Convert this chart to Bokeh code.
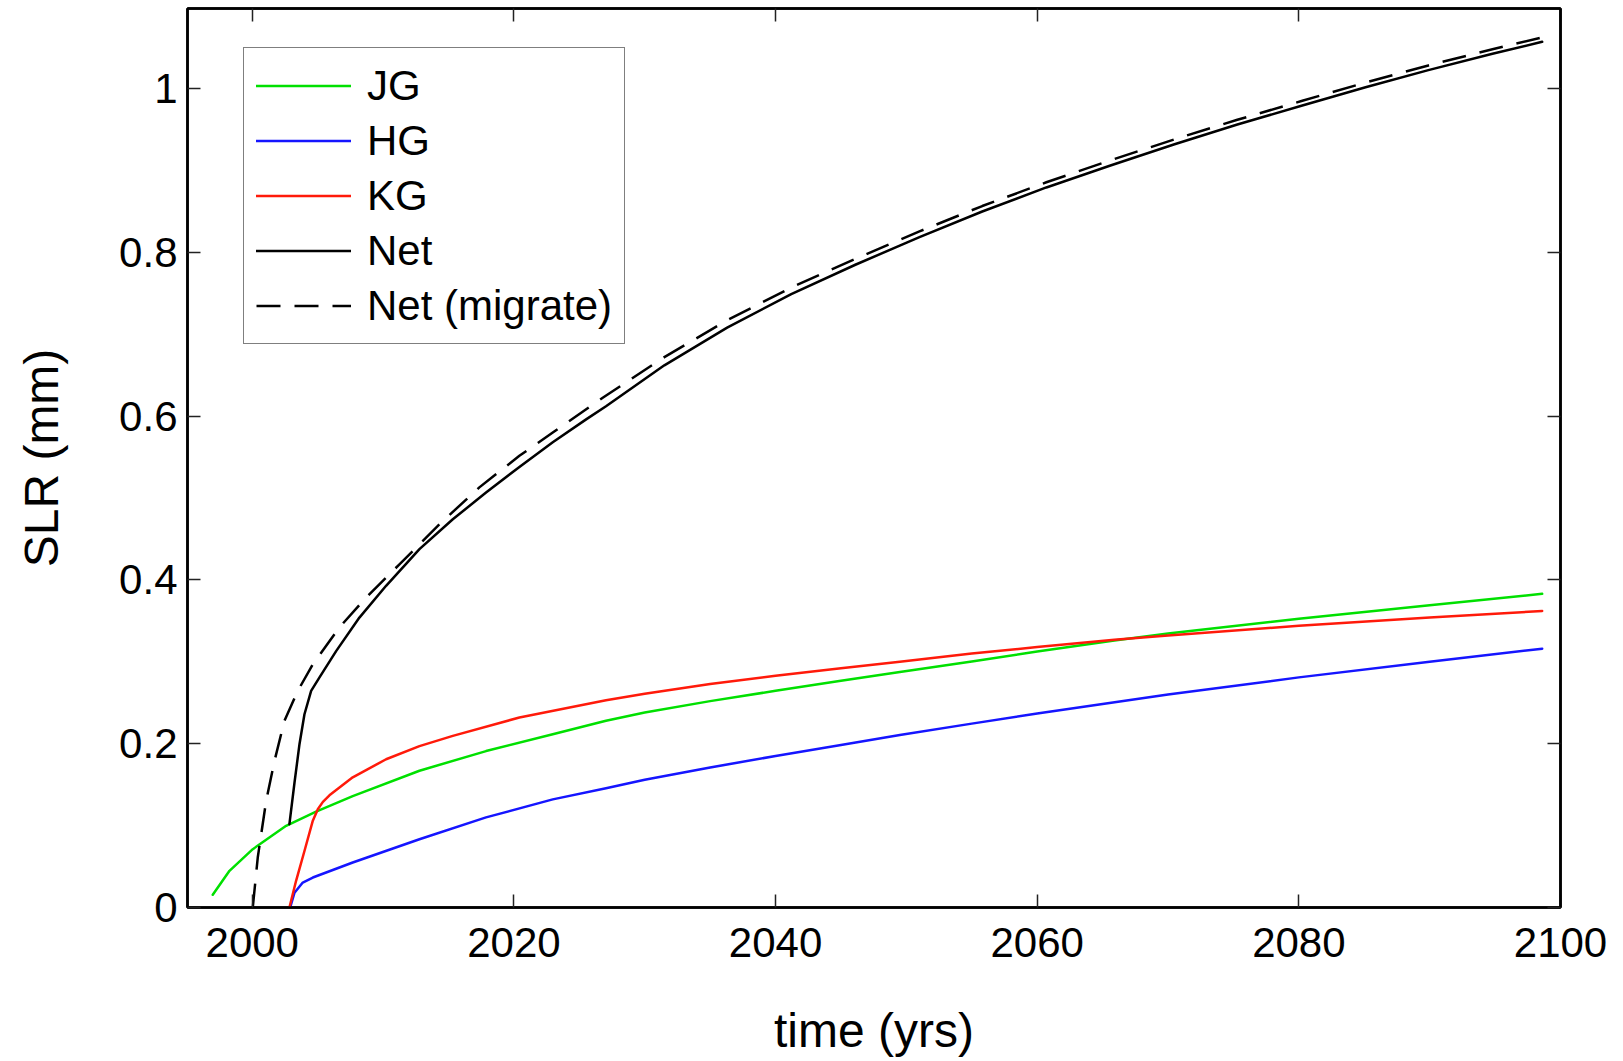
from bokeh.plotting import figure
from bokeh.models import (Range1d, LinearAxis, FixedTicker, NumeralTickFormatter,
                          Legend, LegendItem)
from bokeh.embed import file_html
from bokeh.resources import INLINE

# ---- sea-level rise contributions (mm) over time ----
jg_years = [1996.98, 1998.26, 2000.04, 2002.59, 2004.88, 2007.68, 2012.78, 2017.87,
            2022.97, 2027.04, 2030.0, 2035.0, 2040.0, 2045.0, 2049.5, 2055.0, 2060.0,
            2065.9, 2070.0, 2080.0, 2090.0, 2098.6]
jg_slr = [0.0155, 0.0448, 0.0712, 0.0997, 0.117, 0.136, 0.167, 0.191,
          0.2116, 0.228, 0.238, 0.252, 0.2646, 0.277, 0.2875, 0.3005, 0.3125,
          0.326, 0.3345, 0.3525, 0.369, 0.383]

hg_years = [2002.9, 2003.23, 2003.86, 2004.63, 2007.68, 2012.78, 2017.87, 2022.97,
            2027.04, 2030.0, 2035.0, 2040.0, 2045.0, 2049.5, 2055.0, 2060.0, 2070.0,
            2080.0, 2090.0, 2098.6]
hg_slr = [0.0, 0.018, 0.0305, 0.0366, 0.055, 0.0834, 0.110, 0.132,
          0.1457, 0.156, 0.171, 0.185, 0.1985, 0.2105, 0.2245, 0.237, 0.260,
          0.281, 0.300, 0.316]

kg_years = [2002.84, 2003.35, 2003.99, 2004.63, 2005.01, 2005.4, 2005.9, 2007.68,
            2010.23, 2012.78, 2015.33, 2020.42, 2027.04, 2030.0, 2035.0, 2040.0,
            2045.0, 2049.5, 2055.0, 2060.0, 2065.9, 2070.0, 2080.0, 2090.0, 2098.6]
kg_slr = [0.0, 0.0326, 0.069, 0.106, 0.120, 0.129, 0.137, 0.159,
          0.181, 0.197, 0.2096, 0.232, 0.253, 0.261, 0.273, 0.283,
          0.292, 0.300, 0.310, 0.318, 0.327, 0.332, 0.344, 0.354, 0.362]

net_years = [2002.84, 2003.23, 2003.61, 2003.99, 2004.5, 2005.14, 2006.41, 2008.19,
             2010.23, 2012.78, 2015.33, 2017.87, 2020.42, 2022.97, 2025.52, 2027.04,
             2031.5, 2036.3, 2041.2, 2046.1, 2051.0, 2055.8, 2060.7, 2065.6, 2070.5,
             2075.3, 2080.2, 2085.1, 2089.9, 2094.8, 2098.6]
net_slr = [0.1017, 0.1526, 0.1994, 0.236, 0.2646, 0.281, 0.313, 0.354,
           0.3928, 0.4375, 0.474, 0.5067, 0.538, 0.568, 0.596, 0.612,
           0.662, 0.708, 0.749, 0.7848, 0.8186, 0.8498, 0.8792, 0.906, 0.932,
           0.956, 0.979, 1.0015, 1.0225, 1.0425, 1.057]

mig_years = [2000.04, 2000.42, 2001.06, 2001.7, 2002.46, 2003.48, 2004.63, 2006.66,
             2008.7, 2011.25, 2014.31, 2017.36, 2020.42, 2022.97, 2026.79, 2031.5,
             2036.3, 2041.2, 2046.1, 2051.0, 2055.8, 2060.7, 2065.6, 2070.5, 2075.3,
             2080.2, 2085.1, 2089.9, 2094.8, 2098.6]
mig_slr = [0.0, 0.061, 0.130, 0.179, 0.228, 0.2645, 0.297, 0.342,
           0.3785, 0.419, 0.468, 0.513, 0.5515, 0.580, 0.6225, 0.672,
           0.717, 0.757, 0.792, 0.8256, 0.8565, 0.8855, 0.9123, 0.938, 0.9618,
           0.9847, 1.0073, 1.0282, 1.048, 1.0625]

x_ticks = [2000, 2020, 2040, 2060, 2080, 2100]
y_ticks = [0, 0.2, 0.4, 0.6, 0.8, 1.0]

FONT = "Liberation Sans"

p = figure(width=1623, height=1061, output_backend="svg", toolbar_location=None,
           x_range=Range1d(1995.05, 2100), y_range=Range1d(0, 1.0977),
           min_border_left=187, min_border_right=63, min_border_top=8,
           min_border_bottom=154, background_fill_color="white",
           border_fill_color="white")
p.grid.visible = False
p.outline_line_color = "black"
p.outline_line_width = 2.5
p.outline_line_alpha = 1.0


def style_axis(ax, ticks, show_labels):
    ax.ticker = FixedTicker(ticks=ticks)
    ax.major_tick_in = 13
    ax.major_tick_out = 0
    ax.minor_tick_in = 0
    ax.minor_tick_out = 0
    ax.axis_line_color = "black"
    ax.axis_line_width = 2.5
    ax.major_tick_line_color = "#222222"
    ax.major_tick_line_width = 1.5
    ax.major_label_text_font = FONT
    if show_labels:
        ax.major_label_text_color = "black"
        ax.major_label_text_font_size = "42px"
    else:
        # tick marks only, no numbers
        ax.major_label_text_color = None
        ax.major_label_text_font_size = "1px"
        ax.major_label_standoff = 0


style_axis(p.xaxis[0], x_ticks, True)
style_axis(p.yaxis[0], y_ticks, True)
p.xaxis[0].major_label_standoff = 20
p.yaxis[0].major_label_standoff = 10
p.yaxis[0].formatter = NumeralTickFormatter(format="0.[0]")
p.xaxis[0].formatter = NumeralTickFormatter(format="0")

p.xaxis[0].axis_label = "time (yrs)"
p.yaxis[0].axis_label = "SLR (mm)"
for ax in (p.xaxis[0], p.yaxis[0]):
    ax.axis_label_text_font = FONT
    ax.axis_label_text_font_size = "48px"
    ax.axis_label_text_font_style = "normal"
    ax.axis_label_text_color = "black"
p.xaxis[0].axis_label_standoff = 44
p.yaxis[0].axis_label_standoff = 48

# mirrored tick marks on the top and right frame edges
top_axis = LinearAxis()
style_axis(top_axis, x_ticks, False)
right_axis = LinearAxis()
style_axis(right_axis, y_ticks, False)
p.add_layout(top_axis, "above")
p.add_layout(right_axis, "right")

LW = 2.5
line_kw = dict(line_width=LW, line_join="round", line_cap="round")
r_jg = p.line(jg_years, jg_slr, line_color="#00e000", **line_kw)
r_hg = p.line(hg_years, hg_slr, line_color="#1515ff", **line_kw)
r_kg = p.line(kg_years, kg_slr, line_color="#ff1a0a", **line_kw)
r_mig = p.line(mig_years, mig_slr, line_color="black", line_width=LW,
               line_join="round", line_dash="24 14")
r_net = p.line(net_years, net_slr, line_color="black", **line_kw)

legend = Legend(
    items=[LegendItem(label="JG", renderers=[r_jg]),
           LegendItem(label="HG", renderers=[r_hg]),
           LegendItem(label="KG", renderers=[r_kg]),
           LegendItem(label="Net", renderers=[r_net]),
           LegendItem(label="Net (migrate)", renderers=[r_mig])],
    location=(56, 563),
    label_text_font=FONT, label_text_font_size="42px", label_text_color="black",
    glyph_width=95, glyph_height=51, label_height=51, spacing=4,
    padding=12, label_standoff=16, margin=0,
    border_line_color="black", border_line_width=1.5,
    background_fill_color="white", background_fill_alpha=1.0,
)
p.add_layout(legend)

open("out.html", "w").write(file_html(p, INLINE))
